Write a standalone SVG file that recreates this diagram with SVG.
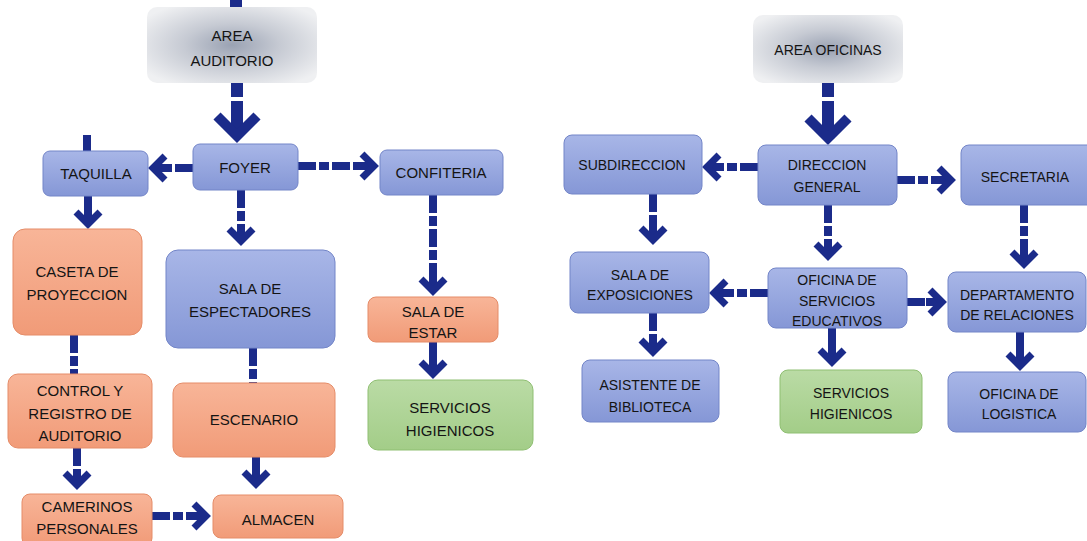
<svg xmlns="http://www.w3.org/2000/svg" width="1087" height="541" viewBox="0 0 1087 541">
<defs>
<linearGradient id="gBlue" x1="0" y1="0" x2="0" y2="1"><stop offset="0" stop-color="#a8b6e7"/><stop offset="1" stop-color="#8597d6"/></linearGradient>
<linearGradient id="gOrange" x1="0" y1="0" x2="0" y2="1"><stop offset="0" stop-color="#f8b598"/><stop offset="1" stop-color="#f19b78"/></linearGradient>
<linearGradient id="gGreen" x1="0" y1="0" x2="0" y2="1"><stop offset="0" stop-color="#badba5"/><stop offset="1" stop-color="#a3cd88"/></linearGradient>
<radialGradient id="gGray" cx="0.5" cy="0.5" r="0.62"><stop offset="0" stop-color="#9aa2b3"/><stop offset="0.45" stop-color="#c6cad3"/><stop offset="1" stop-color="#eff0f2"/></radialGradient>
<marker id="ah" markerUnits="userSpaceOnUse" viewBox="-30 -20 40 40" markerWidth="40" markerHeight="40" refX="0" refY="0" orient="auto">
<path d="M-16,0 H-3" stroke="#1b2b8a" stroke-width="8" fill="none"/>
<path d="M-12,-12 L0,0 L-12,12" stroke="#1b2b8a" stroke-width="7" fill="none" stroke-linejoin="miter"/>
</marker>
<marker id="ahB" markerUnits="userSpaceOnUse" viewBox="-40 -30 60 60" markerWidth="60" markerHeight="60" refX="0" refY="0" orient="auto">
<path d="M-22,0 H-3" stroke="#1b2b8a" stroke-width="12" fill="none"/>
<path d="M-20,-20 L0,0 L-20,20" stroke="#1b2b8a" stroke-width="10" fill="none" stroke-linejoin="miter"/>
</marker>
</defs>
<style>
.blue{fill:url(#gBlue);stroke:#7385c8;stroke-width:1}
.orange{fill:url(#gOrange);stroke:#e58c68;stroke-width:1}
.green{fill:url(#gGreen);stroke:#8fbf72;stroke-width:1}
.gray{fill:url(#gGray);stroke:none}
text{font-family:"Liberation Sans",Arial,sans-serif;fill:#141414;text-anchor:middle}
.l{font-size:15px}
.r{font-size:14px}
.c{stroke:#1b2b8a;stroke-width:8;fill:none;stroke-dasharray:18 3 10 3}
.cb{stroke:#1b2b8a;stroke-width:12;fill:none;stroke-dasharray:14 4 30 3}
.a{marker-end:url(#ah)}
.ab{marker-end:url(#ahB)}
</style>
<g id="connectors">
<path class="cb" d="M236,0 L236,7"/>
<path class="cb ab" d="M237,83 L237,136"/>
<path class="c" d="M87,135 L87,151"/>
<path class="c a" d="M193,168 L153,168"/>
<path class="c a" d="M298,166 L374,166"/>
<path class="c a" d="M88,196 L88,224"/>
<path class="c a" d="M241,190 L241,241"/>
<path class="c a" d="M433,195 L433,291"/>
<path class="c a" d="M433,342 L433,374"/>
<path class="c" d="M74,335 L74,374"/>
<path class="c a" d="M77,448 L77,485"/>
<path class="c" d="M253,348 L253,383"/>
<path class="c a" d="M256,457 L256,484"/>
<path class="c a" d="M152,516 L206,516"/>
<path class="cb ab" d="M828,83 L828,138"/>
<path class="c a" d="M758,167 L707,167"/>
<path class="c a" d="M897,180 L951,180"/>
<path class="c a" d="M653,194 L653,240"/>
<path class="c a" d="M828,205 L828,256"/>
<path class="c a" d="M1024,205 L1024,264"/>
<path class="c a" d="M768,293 L714,293"/>
<path class="c a" d="M907,302 L942,302"/>
<path class="c a" d="M653,313 L653,352"/>
<path class="c a" d="M832,328 L832,362"/>
<path class="c a" d="M1020,332 L1020,366"/>
</g>
<g id="areaAuditorio"><rect class="gray" x="147" y="7" width="170" height="76" rx="10"/><text class="l" x="232" y="41">AREA</text><text class="l" x="232" y="66">AUDITORIO</text></g>
<g id="foyer"><rect class="blue" x="193" y="144" width="105" height="46" rx="7"/><text class="l" x="245" y="173">FOYER</text></g>
<g id="taquilla"><rect class="blue" x="43" y="151" width="105" height="45" rx="7"/><text class="l" x="96" y="179">TAQUILLA</text></g>
<g id="confiteria"><rect class="blue" x="380" y="150" width="123" height="45" rx="7"/><text class="l" x="441" y="178">CONFITERIA</text></g>
<g id="caseta"><rect class="orange" x="13" y="229" width="129" height="106" rx="12"/><text class="l" x="77" y="277">CASETA DE</text><text class="l" x="77" y="300">PROYECCION</text></g>
<g id="salaEspectadores"><rect class="blue" x="166" y="250" width="169" height="98" rx="12"/><text class="l" x="250" y="294">SALA DE</text><text class="l" x="250" y="317">ESPECTADORES</text></g>
<g id="salaEstar"><rect class="orange" x="368" y="297" width="130" height="45" rx="8"/><text class="l" x="433" y="317">SALA DE</text><text class="l" x="433" y="338">ESTAR</text></g>
<g id="serviciosAud"><rect class="green" x="368" y="380" width="165" height="70" rx="10"/><text class="l" x="450" y="413">SERVICIOS</text><text class="l" x="450" y="436">HIGIENICOS</text></g>
<g id="control"><rect class="orange" x="8" y="374" width="144" height="74" rx="10"/><text class="l" x="80" y="396">CONTROL Y</text><text class="l" x="80" y="419">REGISTRO DE</text><text class="l" x="80" y="441">AUDITORIO</text></g>
<g id="escenario"><rect class="orange" x="173" y="383" width="162" height="74" rx="10"/><text class="l" x="254" y="425">ESCENARIO</text></g>
<g id="camerinos"><rect class="orange" x="22" y="494" width="130" height="52" rx="8"/><text class="l" x="87" y="512">CAMERINOS</text><text class="l" x="87" y="534">PERSONALES</text></g>
<g id="almacen"><rect class="orange" x="213" y="495" width="130" height="43" rx="8"/><text class="l" x="278" y="525">ALMACEN</text></g>
<g id="areaOficinas"><rect class="gray" x="753" y="15" width="150" height="68" rx="10"/><text class="r" x="828" y="55">AREA OFICINAS</text></g>
<g id="direccion"><rect class="blue" x="758" y="145" width="139" height="60" rx="8"/><text class="r" x="827" y="170">DIRECCION</text><text class="r" x="827" y="192">GENERAL</text></g>
<g id="subdireccion"><rect class="blue" x="564" y="135" width="138" height="59" rx="8"/><text class="r" x="632" y="170">SUBDIRECCION</text></g>
<g id="secretaria"><rect class="blue" x="961" y="145" width="134" height="60" rx="8"/><text class="r" x="1025" y="182">SECRETARIA</text></g>
<g id="salaExposiciones"><rect class="blue" x="570" y="252" width="139" height="61" rx="8"/><text class="r" x="640" y="280">SALA DE</text><text class="r" x="640" y="300">EXPOSICIONES</text></g>
<g id="oficinaServicios"><rect class="blue" x="768" y="268" width="139" height="60" rx="8"/><text class="r" x="837" y="285">OFICINA DE</text><text class="r" x="837" y="306">SERVICIOS</text><text class="r" x="837" y="326">EDUCATIVOS</text></g>
<g id="departamento"><rect class="blue" x="948" y="272" width="138" height="60" rx="8"/><text class="r" x="1017" y="300">DEPARTAMENTO</text><text class="r" x="1017" y="320">DE RELACIONES</text></g>
<g id="asistente"><rect class="blue" x="582" y="360" width="137" height="62" rx="8"/><text class="r" x="650" y="390">ASISTENTE DE</text><text class="r" x="650" y="412">BIBLIOTECA</text></g>
<g id="serviciosOf"><rect class="green" x="780" y="370" width="142" height="63" rx="8"/><text class="r" x="851" y="398">SERVICIOS</text><text class="r" x="851" y="419">HIGIENICOS</text></g>
<g id="logistica"><rect class="blue" x="948" y="372" width="138" height="60" rx="8"/><text class="r" x="1019" y="399">OFICINA DE</text><text class="r" x="1019" y="419">LOGISTICA</text></g>
</svg>
